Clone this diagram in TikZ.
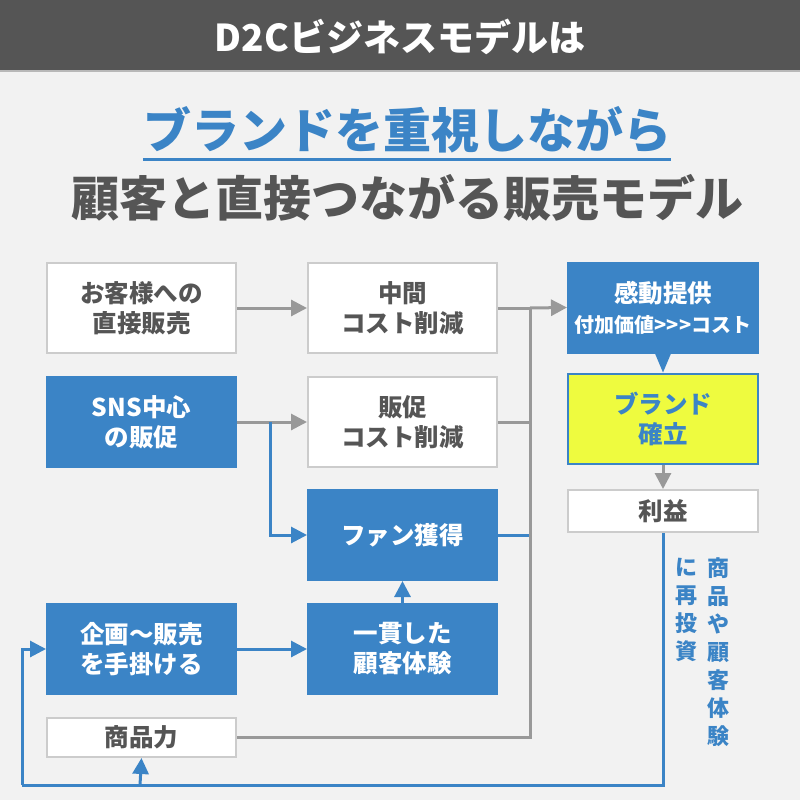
\documentclass[tikz,border=0pt]{standalone}
\usepackage{fontspec}
\setmainfont{Noto Sans CJK JP}
\usetikzlibrary{arrows.meta}

\definecolor{dblue}{HTML}{3B84C6}
\definecolor{bggray}{HTML}{F2F2F2}
\definecolor{dgray}{HTML}{555555}
\definecolor{lngray}{HTML}{999999}
\definecolor{bxgray}{HTML}{CCCCCC}
\definecolor{brandyel}{HTML}{EEFB3F}

\tikzset{
  whitebox/.style={draw=bxgray, line width=2pt, fill=white, text=dgray,
    minimum width=189pt, minimum height=90pt, inner sep=0pt, align=center,
    font=\fontsize{24.5}{30}\selectfont\bfseries},
  bluebox/.style={whitebox, draw=dblue, fill=dblue, text=white},
  grayline/.style={draw=lngray, line width=3pt},
  blueline/.style={draw=dblue, line width=3pt},
  grayarrow/.style={grayline, -{Triangle[length=16pt,width=16pt]}},
  bluearrow/.style={blueline, -{Triangle[length=16pt,width=16pt]}},
}

\begin{document}
\begin{tikzpicture}[x=1pt, y=-1pt]
  \useasboundingbox (0,0) rectangle (800,800);
  \fill[bggray] (0,0) rectangle (800,800);
  % header
  \fill[dgray] (0,0) rectangle (800,70);
  \draw[lngray!70, line width=2pt] (0,71) -- (800,71);
  \node[text=white, font=\fontsize{37}{37}\selectfont\bfseries] (head) at (400,37) {D2Cビジネスモデルは};
  % title
  \node[text=dblue, inner sep=0pt, font=\fontsize{48}{48}\selectfont\bfseries] (title1) at (407,130) {ブランドを重視しながら};
  \draw[dblue, line width=3pt] ([yshift=-11pt]title1.base west) -- ([yshift=-11pt]title1.base east);
  \node[text=dgray, inner sep=0pt, font=\fontsize{48}{48}\selectfont\bfseries] (title2) at (407,198) {顧客と直接つながる販売モデル};

  % boxes
  \node[whitebox] (direct) at (141.5,308) {お客様への\\直接販売};
  \node[whitebox] (midcost) at (402.5,308) {中間\\コスト削減};
  \node[bluebox] (sns) at (141.5,422) {SNS中心\\の販促};
  \node[whitebox] (promocost) at (402.5,422) {販促\\コスト削減};
  \node[bluebox] (fan) at (402.5,535) {ファン獲得};
  \node[bluebox] (plan) at (141.5,649) {企画〜販売\\を手掛ける};
  \node[bluebox] (exper) at (402.5,649) {一貫した\\顧客体験};
  \node[whitebox, minimum height=39pt] (product) at (141.5,737.5) {商品力};
  \node[bluebox, minimum width=190pt] (impress) at (663,307.5) {感動提供\\{\fontsize{20}{26}\selectfont 付加価値>{}>{}>コスト}};
  \node[bluebox, fill=brandyel, text=dblue, minimum width=190pt] (brand) at (663,419) {ブランド\\確立};
  \node[whitebox, minimum width=190pt, minimum height=42pt] (profit) at (663,511) {利益};
  \fill[dblue] ([xshift=-8pt]impress.south) -- ([xshift=8pt]impress.south) -- ([yshift=-19pt]impress.south) -- cycle;

  % connectors
  \coordinate (join) at (530,308);
  \coordinate (split) at (270,422);
  \coordinate (loopr) at (663,785);
  \coordinate (loopl) at (22,785);
  \coordinate (loopm) at (140,785);
  \draw[grayarrow] (direct) -- (midcost);
  \draw[grayarrow] (sns) -- (promocost);
  \draw[bluearrow] (split) |- (fan.west);
  \draw[blueline] (fan.east) -- (fan.east -| join);
  \draw[grayline] (midcost.east) -- (join);
  \draw[grayline] (promocost.east) -- (promocost.east -| join);
  \draw[grayline] (product.east) -| (join);
  \draw[grayarrow] (join) -- (impress.west);
  \draw[bluearrow] (plan) -- (exper);
  \draw[bluearrow] (exper) -- (fan);
  \draw[grayarrow] (brand) -- (profit);
  \draw[blueline] (profit.south) -- (loopr) -- (loopl);
  \draw[bluearrow] (loopl) |- (plan.west);
  \draw[bluearrow] (loopm) -- (product.south);

  % vertical label
  \node[text=dblue, align=center, inner sep=0pt, font=\fontsize{22}{28}\selectfont\bfseries] (reinv1) at (718,652) {商\\品\\や\\顧\\客\\体\\験};
  \node[text=dblue, align=center, inner sep=0pt, font=\fontsize{22}{28}\selectfont\bfseries] (reinv2) at (686,610) {に\\再\\投\\資};
\end{tikzpicture}
\end{document}
